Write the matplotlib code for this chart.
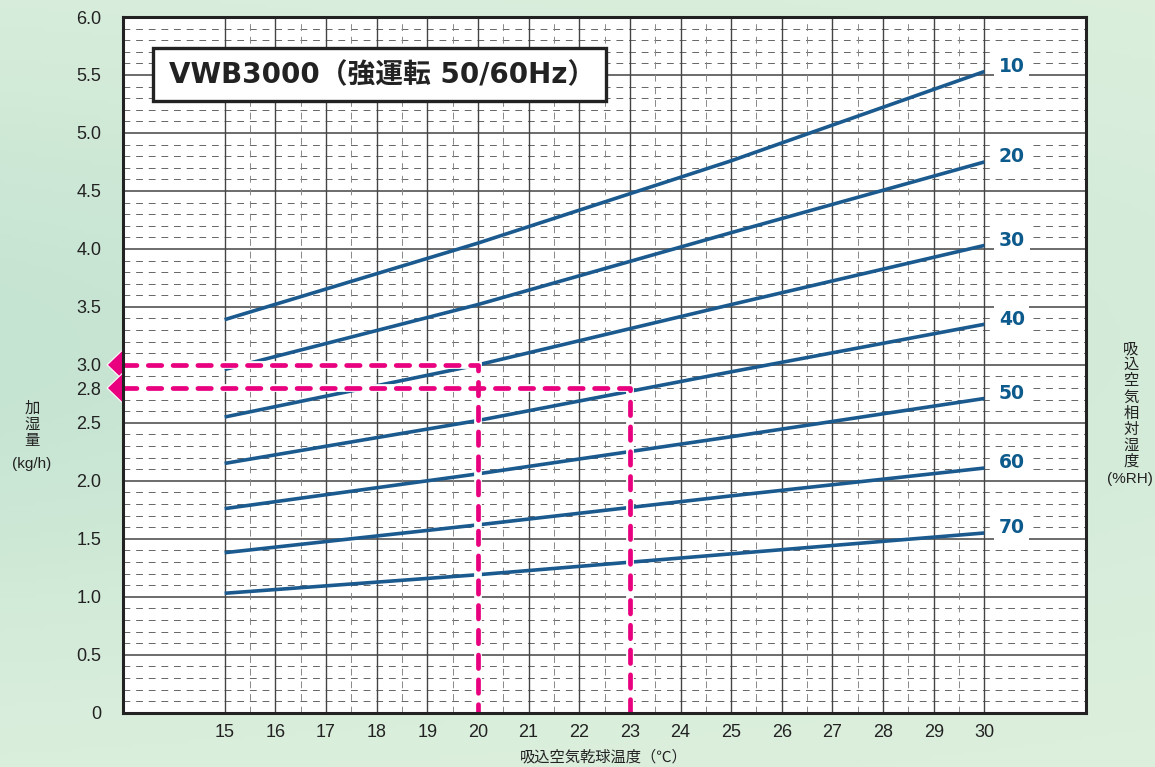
import numpy as np
import matplotlib
matplotlib.use("Agg")
import matplotlib.pyplot as plt
from matplotlib.patches import Polygon, Rectangle

plt.rcParams['font.family'] = ['Liberation Sans', 'Noto Sans CJK JP', 'DejaVu Sans']

# temperature (C) where the curves are read
temps = [15, 20, 25, 30]

# humidifying amount (kg/h) for each relative humidity (%RH)
rh_labels = ["10", "20", "30", "40", "50", "60", "70"]
rh10 = [3.39, 4.05, 4.76, 5.53]
rh20 = [2.96, 3.52, 4.14, 4.75]
rh30 = [2.55, 3.00, 3.52, 4.03]
rh40 = [2.15, 2.52, 2.94, 3.35]
rh50 = [1.76, 2.06, 2.38, 2.71]
rh60 = [1.38, 1.62, 1.87, 2.11]
rh70 = [1.03, 1.19, 1.37, 1.55]
curves = [rh10, rh20, rh30, rh40, rh50, rh60, rh70]

# example readings (pink dashed guides)
examples = [(20, 3.0), (23, 2.8)]

xticks = list(range(15, 31))
yticks = [0, 0.5, 1.0, 1.5, 2.0, 2.5, 2.8, 3.0, 3.5, 4.0, 4.5, 5.0, 5.5, 6.0]
ytick_labels = ["0", "0.5", "1.0", "1.5", "2.0", "2.5", "2.8", "3.0",
                "3.5", "4.0", "4.5", "5.0", "5.5", "6.0"]

title = "VWB3000（強運転 50/60Hz）"

BLUE = "#1b5a8e"
PINK = "#e8007f"
LABEL_BLUE = "#0d5a8c"

fig = plt.figure(figsize=(11.55, 7.67), dpi=100)

# light green background gradient
bg = fig.add_axes([0, 0, 1, 1], zorder=-10)
gy, gx = np.mgrid[0:1:200j, 0:1:300j]
w = np.exp(-((gy - 0.45) / 0.4) ** 2) * (1 - 0.6 * gx)
light = np.array([222, 240, 222]) / 255
dark = np.array([198, 228, 210]) / 255
img = light[None, None, :] * (1 - w[..., None]) + dark[None, None, :] * w[..., None]
bg.imshow(img, aspect='auto', extent=[0, 1, 0, 1])
bg.axis('off')

ax = fig.add_axes([0.1068, 0.0708, 0.8332, 0.907])
ax.set_facecolor('white')
ax.set_xlim(13, 32)
ax.set_ylim(0, 6)

# grid
for y in np.arange(0.1, 6.0, 0.1):
    if abs(y * 2 - round(y * 2)) < 1e-6:
        ax.axhline(y, color='#444444', lw=1.1, zorder=1)
    else:
        ax.axhline(y, color='#666666', lw=0.7, dashes=(7, 6), zorder=1)
for x in xticks:
    ax.axvline(x, color='#444444', lw=1.0, zorder=1)
for x in np.arange(15.5, 30, 1.0):
    ax.axvline(x, color='#888888', lw=0.7, dashes=(7, 6), zorder=1)

# curves
for vals in curves:
    ax.plot(temps, vals, color=BLUE, lw=2.6, solid_capstyle='butt', zorder=3)

# RH labels at the line ends
for lab, vals in zip(rh_labels, curves):
    ax.text(30.54, vals[-1] + 0.045, lab, color=LABEL_BLUE, fontsize=13.5,
            fontweight='bold', ha='center', va='center', zorder=4,
            family=['DejaVu Sans'],
            bbox=dict(boxstyle='square,pad=0.25', fc='white', ec='none'))

# pink example guides with white outline
for ex, ey in examples:
    xs = [13, ex, ex]
    ys = [ey, ey, 0]
    ax.plot(xs, ys, color='white', lw=5.6, solid_joinstyle='miter', zorder=5)
    ax.plot(xs, ys, color=PINK, lw=3.4, dashes=(2.85, 2.4),
            dash_capstyle='round', zorder=6)

# pink arrows on the left axis
for ex, ey in examples:
    tri = Polygon([[12.68, ey], [13.0, ey + 0.135], [13.0, ey - 0.135]],
                  closed=True, fc=PINK, ec='white', lw=0.8,
                  clip_on=False, zorder=7)
    ax.add_patch(tri)

# title box
ax.add_patch(Rectangle((13.59, 5.275), 8.93, 0.458, fc='white', ec='#222222',
                       lw=2.4, zorder=8))
ax.text(18.1, 5.50, title, fontsize=20, fontweight='bold', color='#222222',
        ha='center', va='center', zorder=9,
        family=['DejaVu Sans', 'Noto Sans CJK JP'])

ax.set_xticks(xticks)
ax.set_xticklabels([str(t) for t in xticks])
ax.set_yticks(yticks)
ax.set_yticklabels(ytick_labels)
ax.tick_params(axis='both', length=0, labelsize=13, colors='#222222')
ax.tick_params(axis='x', pad=8)
ax.tick_params(axis='y', pad=16)

for s in ax.spines.values():
    s.set_linewidth(2.2)
    s.set_color('#222222')
    s.set_zorder(10)

# axis titles
fig.text(32 / 1155, 1 - 424 / 767, "加\n湿\n量", fontsize=11, ha='center',
         va='center', linespacing=0.93, color='#222222',
         family=['Noto Sans CJK JP'])
fig.text(32 / 1155, 1 - 464 / 767, "(kg/h)", fontsize=11, ha='center',
         va='center', color='#222222')
fig.text(1131 / 1155, 1 - 405 / 767, "吸\n込\n空\n気\n相\n対\n湿\n度", fontsize=11,
         ha='center', va='center', linespacing=0.93, color='#222222',
         family=['Noto Sans CJK JP'])
fig.text(1130 / 1155, 1 - 479 / 767, "(%RH)", fontsize=11, ha='center',
         va='center', color='#222222')
fig.text(604 / 1155, 1 - 757 / 767, "吸込空気乾球温度（℃）", fontsize=11,
         ha='center', va='center', color='#222222')

fig.savefig("out.png", dpi=100)
